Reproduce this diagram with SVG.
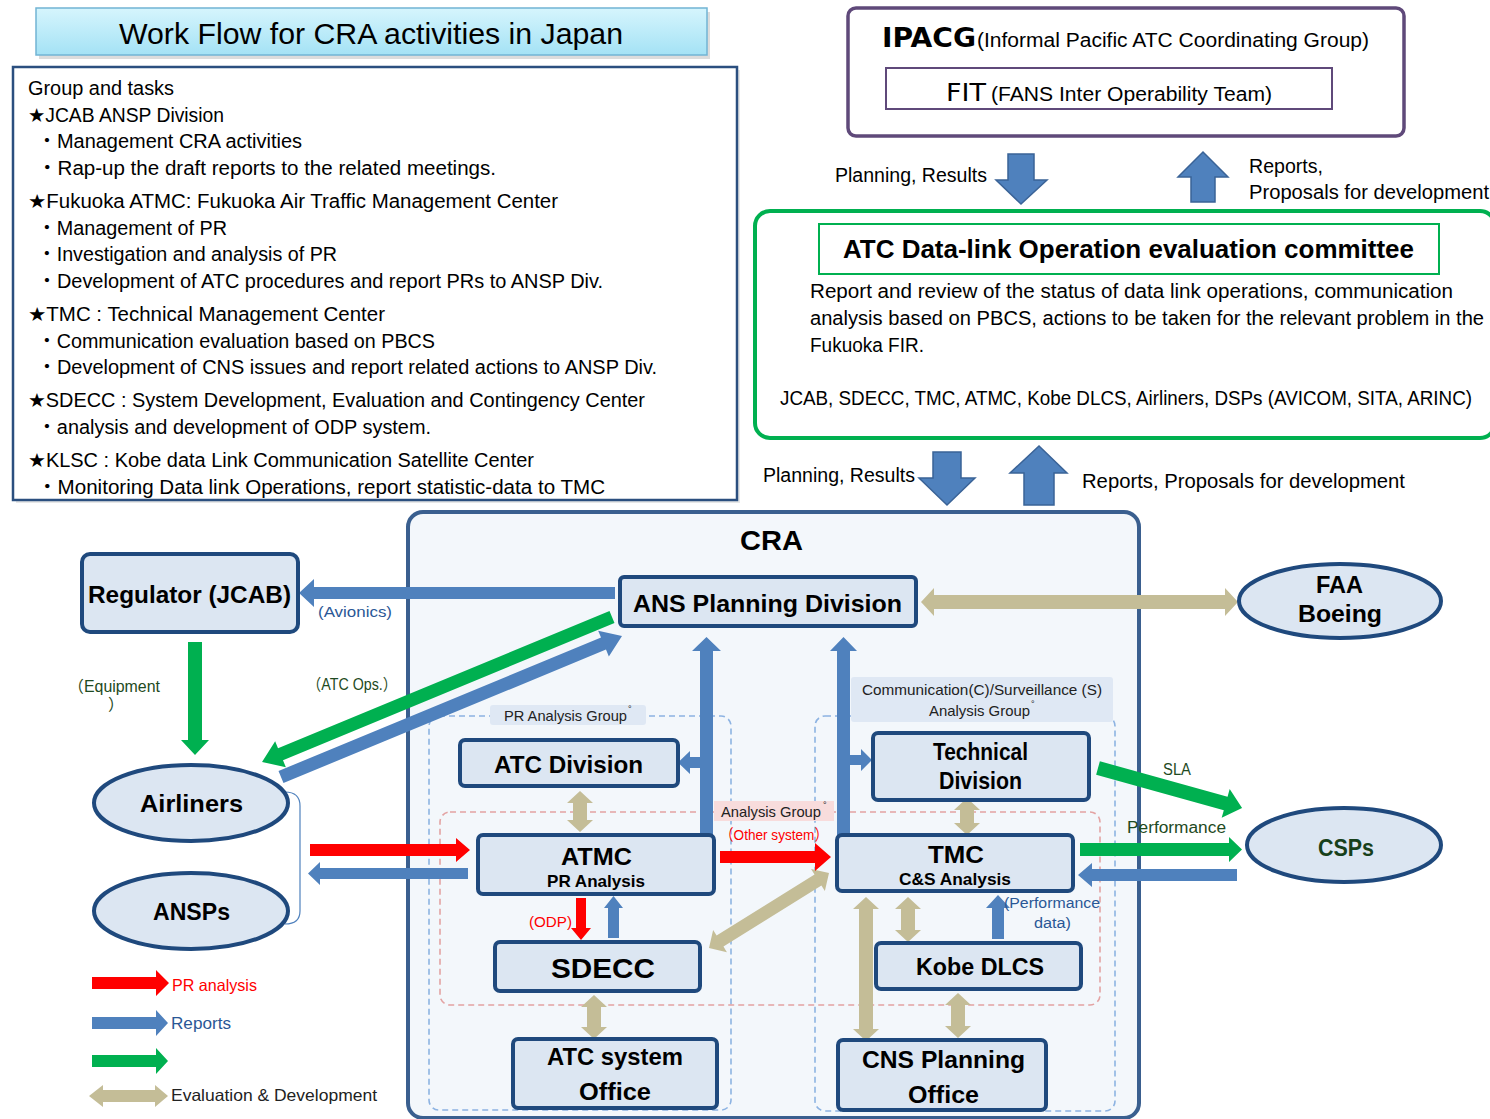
<svg xmlns="http://www.w3.org/2000/svg" width="1490" height="1119" viewBox="0 0 1490 1119">
<defs>
<linearGradient id="tg" x1="0" y1="0" x2="0" y2="1"><stop offset="0" stop-color="#d6f5fd"/><stop offset="1" stop-color="#a4e2f5"/></linearGradient>
<style>
text{font-family:"Liberation Sans","DejaVu Sans","Noto Sans CJK JP",sans-serif}
.t{font-size:19.5px;fill:#000}
.c20{font-size:20px;fill:#000}
.node{fill:#dce6f2;stroke:#1f497d;stroke-width:4}
.nl{font-weight:bold;font-size:24px;fill:#000}
.ns{font-weight:bold;font-size:17px;fill:#000}
.blue{fill:#4f81bd}
.bigblue{fill:#4f81bd;stroke:#3a6397;stroke-width:1.5}
.green{fill:#00b050}
.red{fill:#ff0000}
.tan{fill:#c4bd97}
.lbl{font-size:14.5px;fill:#222}
.bl{font-size:15.5px;fill:#2a5796}
.gl{font-size:16px;fill:#1e4a22}
.rl{font-size:15.5px;fill:#ff0000}
.dashb{fill:none;stroke:#8db3e2;stroke-width:1.6;stroke-dasharray:6 4}
.dashr{fill:none;stroke:#e3a3a3;stroke-width:1.6;stroke-dasharray:6 4}
</style>
</defs>
<rect width="1490" height="1119" fill="#ffffff"/>

<!-- Title -->
<g id="title">
<rect x="39" y="12" width="671" height="47" fill="#9a9a9a" opacity="0.35"/>
<rect x="36" y="8" width="671" height="47" fill="url(#tg)" stroke="#72b4d4" stroke-width="1.5"/>
<text x="119" y="44" style="font-size:29px" fill="#000" textLength="504" lengthAdjust="spacingAndGlyphs">Work Flow for CRA activities in Japan</text>
</g>

<!-- Group and tasks -->
<g id="tasks">
<rect x="16" y="70" width="724" height="433" fill="#b0b0b0" opacity="0.3"/>
<rect x="13" y="67" width="724" height="433" fill="#ffffff" stroke="#2b4f7f" stroke-width="2.5"/>
<text class="t" x="28" y="95" textLength="146" lengthAdjust="spacingAndGlyphs">Group and tasks</text>
<text class="t" x="28" y="122" textLength="196" lengthAdjust="spacingAndGlyphs">★JCAB ANSP Division</text>
<text class="t" x="37" y="148" textLength="265" lengthAdjust="spacingAndGlyphs">・Management CRA activities</text>
<text class="t" x="37" y="175" textLength="459" lengthAdjust="spacingAndGlyphs">・Rap-up the draft reports to the related meetings.</text>
<text class="t" x="28" y="208" textLength="530" lengthAdjust="spacingAndGlyphs">★Fukuoka ATMC: Fukuoka Air Traffic Management Center</text>
<text class="t" x="37" y="235" textLength="190" lengthAdjust="spacingAndGlyphs">・Management of PR</text>
<text class="t" x="37" y="261" textLength="300" lengthAdjust="spacingAndGlyphs">・Investigation and analysis of PR</text>
<text class="t" x="37" y="288" textLength="566" lengthAdjust="spacingAndGlyphs">・Development of ATC procedures and report PRs to ANSP Div.</text>
<text class="t" x="28" y="321" textLength="357" lengthAdjust="spacingAndGlyphs">★TMC : Technical Management Center</text>
<text class="t" x="37" y="348" textLength="398" lengthAdjust="spacingAndGlyphs">・Communication evaluation based on PBCS</text>
<text class="t" x="37" y="374" textLength="620" lengthAdjust="spacingAndGlyphs">・Development of CNS issues and report related actions to ANSP Div.</text>
<text class="t" x="28" y="407" textLength="617" lengthAdjust="spacingAndGlyphs">★SDECC : System Development, Evaluation and Contingency Center</text>
<text class="t" x="37" y="434" textLength="394" lengthAdjust="spacingAndGlyphs">・analysis and development of ODP system.</text>
<text class="t" x="28" y="467" textLength="506" lengthAdjust="spacingAndGlyphs">★KLSC : Kobe data Link Communication Satellite Center</text>
<text class="t" x="37" y="494" textLength="568" lengthAdjust="spacingAndGlyphs">・Monitoring Data link Operations, report statistic-data to TMC</text>
</g>

<!-- IPACG -->
<g id="ipacg">
<rect x="848" y="8" width="556" height="128" rx="8" fill="#ffffff" stroke="#5f497a" stroke-width="3.5"/>
<text x="882" y="47" style="font-family:'DejaVu Sans',sans-serif;font-weight:bold;font-size:26px" fill="#000" textLength="94" lengthAdjust="spacingAndGlyphs">IPACG</text>
<text x="977" y="47" class="c20" textLength="392" lengthAdjust="spacingAndGlyphs">(Informal Pacific ATC Coordinating Group)</text>
</g>
<g id="fit">
<rect x="886" y="68" width="446" height="41" fill="#ffffff" stroke="#5f497a" stroke-width="2"/>
<text x="946" y="101" style="font-family:'DejaVu Sans',sans-serif;font-size:25px" fill="#000" textLength="40" lengthAdjust="spacingAndGlyphs">FIT</text>
<text x="991" y="101" class="c20" textLength="281" lengthAdjust="spacingAndGlyphs">(FANS Inter Operability Team)</text>
</g>

<!-- Committee -->
<g id="committee">
<rect x="755" y="211" width="740" height="227" rx="15" fill="#ffffff" stroke="#00b050" stroke-width="4"/>
<rect x="819" y="224" width="620" height="50" fill="#ffffff" stroke="#00b050" stroke-width="2"/>
<text x="843" y="258" style="font-weight:bold;font-size:26px" fill="#000" textLength="571" lengthAdjust="spacingAndGlyphs">ATC Data-link Operation evaluation committee</text>
<text x="810" y="298" class="c20" textLength="643" lengthAdjust="spacingAndGlyphs">Report and review of the status of data link operations, communication</text>
<text x="810" y="325" class="c20" textLength="674" lengthAdjust="spacingAndGlyphs">analysis based on PBCS, actions to be taken for the relevant problem in the</text>
<text x="810" y="352" class="c20" textLength="114" lengthAdjust="spacingAndGlyphs">Fukuoka FIR.</text>
<text x="780" y="405" class="c20" textLength="692" lengthAdjust="spacingAndGlyphs">JCAB, SDECC, TMC, ATMC, Kobe DLCS, Airliners, DSPs (AVICOM, SITA, ARINC)</text>
</g>

<!-- Top flow arrows -->
<g id="flow-top">
<polygon class="bigblue" points="1008,154 1034,154 1034,180 1047,180 1021,204 996,180 1008,180"/>
<polygon class="bigblue" points="1191,202 1191,177 1178,177 1203,152 1228,177 1215,177 1215,202"/>
<text x="835" y="182" class="c20" textLength="152" lengthAdjust="spacingAndGlyphs">Planning, Results</text>
<text x="1249" y="173" class="c20" textLength="74" lengthAdjust="spacingAndGlyphs">Reports,</text>
<text x="1249" y="199" class="c20" textLength="240" lengthAdjust="spacingAndGlyphs">Proposals for development</text>
<polygon class="bigblue" points="933,452 961,452 961,478 975,478 947,505 919,478 933,478"/>
<polygon class="bigblue" points="1024,505 1024,473 1010,473 1039,446 1067,473 1054,473 1054,505"/>
<text x="763" y="482" class="c20" textLength="152" lengthAdjust="spacingAndGlyphs">Planning, Results</text>
<text x="1082" y="488" class="c20" textLength="323" lengthAdjust="spacingAndGlyphs">Reports, Proposals for development</text>
</g>

<!-- CRA container -->
<g id="cra">
<rect x="408" y="512" width="731" height="606" rx="15" fill="#f3f7fb" stroke="#3a5f8f" stroke-width="4"/>
<text x="740" y="550" style="font-weight:bold;font-size:28px" fill="#000" textLength="63" lengthAdjust="spacingAndGlyphs">CRA</text>
</g>

<!-- Groups -->
<g id="pr-analysis-group">
<rect class="dashb" x="429" y="716" width="302" height="394" rx="10"/>
<rect x="490" y="705" width="156" height="20" rx="3" fill="#dfe8f4"/>
<text class="lbl" x="504" y="721" textLength="123" lengthAdjust="spacingAndGlyphs">PR Analysis Group</text>
<text class="lbl" x="628" y="712" style="font-size:9px">°</text>
</g>
<g id="cs-analysis-group">
<rect class="dashb" x="815" y="716" width="300" height="395" rx="10"/>
<rect x="851" y="677" width="262" height="45" rx="3" fill="#dfe8f4"/>
<text class="lbl" x="862" y="695" textLength="240" lengthAdjust="spacingAndGlyphs">Communication(C)/Surveillance (S)</text>
<text class="lbl" x="929" y="716" textLength="101" lengthAdjust="spacingAndGlyphs">Analysis Group</text>
<text class="lbl" x="1031" y="707" style="font-size:9px">°</text>
</g>
<g id="analysis-group">
<rect class="dashr" x="440" y="812" width="660" height="193" rx="10"/>
<rect x="714" y="801" width="120" height="20" fill="#f8dcdc"/>
<text class="lbl" x="721" y="817" textLength="100" lengthAdjust="spacingAndGlyphs">Analysis Group</text>
<text class="lbl" x="823" y="808" style="font-size:9px">°</text>
<text class="rl" x="720" y="840" textLength="108" lengthAdjust="spacingAndGlyphs">（Other system）</text>
</g>

<!-- Connectors -->
<g id="connectors">
<polygon class="blue" points="615,587 314,587 314,579 299,593 314,607 314,599 615,599"/>
<polygon class="green" transform="translate(612,617) rotate(157.5)" points="0,-6.5 358.8,-6.5 358.8,-14 378.8,0 358.8,14 358.8,6.5 0,6.5"/>
<polygon class="blue" transform="translate(281,777) rotate(-22.47)" points="0,-6.5 349,-6.5 349,-14 369,0 349,14 349,6.5 0,6.5"/>
<polygon class="green" points="188,642 202,642 202,740 209,740 195,755 181,740 188,740"/>
<path d="M285,792 Q300,792 300,806 L300,911 Q300,924 285,924" fill="none" stroke="#4f81bd" stroke-width="1.2"/>
<polygon class="red" points="310,844 456,844 456,838 470,850 456,862 456,856 310,856"/>
<polygon class="blue" points="468,868 320,868 320,862 308,873.5 320,885 320,879 468,879"/>
<polygon class="blue" points="700,835 700,651 692,651 706.5,637 721,651 713,651 713,835"/>
<polygon class="blue" points="701,757 690,757 690,751 678,762.5 690,774 690,768 701,768"/>
<polygon class="blue" points="837,835 837,651 830,651 843.5,637 857,651 850,651 850,835"/>
<polygon class="blue" points="849,755 861,755 861,749 872,760 861,771 861,765 849,765"/>
<polygon class="tan" points="921,602 934,588 934,595 1225,595 1225,588 1238,602 1225,616 1225,609 934,609 934,616"/>
<polygon class="tan" points="580,791 593,803 587,803 587,820 593,820 580,832 567,820 573,820 573,803 567,803"/>
<polygon class="tan" points="967,798 980,810 974,810 974,823 980,823 967,835 954,823 960,823 960,810 954,810"/>
<polygon class="tan" points="594,995 607,1007 601,1007 601,1027 607,1027 594,1039 581,1027 587,1027 587,1007 581,1007"/>
<polygon class="tan" points="866,897 879,909 873,909 873,1029 879,1029 866,1041 853,1029 859,1029 859,909 853,909"/>
<polygon class="tan" points="908,897 921,909 915,909 915,930 921,930 908,942 895,930 901,930 901,909 895,909"/>
<polygon class="tan" points="958,993 971,1005 965,1005 965,1026 971,1026 958,1038 945,1026 951,1026 951,1005 945,1005"/>
<polygon class="tan" transform="translate(709,948) rotate(-32)" points="0,0 13,-13 13,-6.5 128.5,-6.5 128.5,-13 141.5,0 128.5,13 128.5,6.5 13,6.5 13,13"/>
<polygon class="red" points="720,851 815,851 815,843 831,857 815,871 815,863 720,863"/>
<polygon class="red" points="576,898 586,898 586,928 591,928 581,940 571,928 576,928"/>
<polygon class="blue" points="608,938 608,908 604,908 613.5,896 623,908 619,908 619,938"/>
<polygon class="blue" points="992,939 992,908 986,908 998,895 1010,908 1004,908 1004,939"/>
<polygon class="green" transform="translate(1098,768) rotate(15.5)" points="0,-7 132.5,-7 132.5,-15 149.5,0 132.5,15 132.5,7 0,7"/>
<polygon class="green" points="1080,843 1229,843 1229,837 1242,849.5 1229,862 1229,856 1080,856"/>
<polygon class="blue" points="1237,869 1092,869 1092,863 1078,875 1092,887 1092,881 1237,881"/>
</g>

<!-- Connector labels -->
<g id="connector-labels">
<text class="bl" x="318" y="617" textLength="74" lengthAdjust="spacingAndGlyphs">(Avionics)</text>
<text class="gl" x="68" y="692" textLength="92" lengthAdjust="spacingAndGlyphs">（Equipment</text>
<text class="gl" x="108" y="710">）</text>
<text class="gl" x="307" y="690" textLength="90" lengthAdjust="spacingAndGlyphs">（ATC Ops.）</text>
<text class="rl" x="529" y="927" textLength="43" lengthAdjust="spacingAndGlyphs">(ODP)</text>
<text class="bl" x="1004" y="908" textLength="96" lengthAdjust="spacingAndGlyphs">(Performance</text>
<text class="bl" x="1034" y="928" textLength="37" lengthAdjust="spacingAndGlyphs">data)</text>
<text class="gl" x="1163" y="775" textLength="28" lengthAdjust="spacingAndGlyphs">SLA</text>
<text class="gl" x="1127" y="833" textLength="99" lengthAdjust="spacingAndGlyphs">Performance</text>
</g>

<!-- Nodes -->
<g id="ans-planning">
<rect class="node" x="620" y="577" width="296" height="49" rx="4"/>
<text class="nl" x="633" y="612" textLength="269" lengthAdjust="spacingAndGlyphs">ANS Planning Division</text>
</g>
<g id="regulator">
<rect class="node" x="82" y="554" width="216" height="78" rx="8"/>
<text class="nl" x="88" y="603" textLength="203" lengthAdjust="spacingAndGlyphs">Regulator (JCAB)</text>
</g>
<g id="airliners">
<ellipse class="node" cx="191" cy="803" rx="97" ry="38"/>
<text class="nl" x="140" y="812" textLength="103" lengthAdjust="spacingAndGlyphs">Airliners</text>
</g>
<g id="ansps">
<ellipse class="node" cx="191" cy="911" rx="97" ry="38"/>
<text class="nl" x="153" y="920" textLength="77" lengthAdjust="spacingAndGlyphs">ANSPs</text>
</g>
<g id="faa-boeing">
<ellipse class="node" cx="1340" cy="601" rx="101" ry="37"/>
<text class="nl" x="1316" y="593" textLength="47" lengthAdjust="spacingAndGlyphs">FAA</text>
<text class="nl" x="1298" y="622" textLength="84" lengthAdjust="spacingAndGlyphs">Boeing</text>
</g>
<g id="csps">
<ellipse class="node" cx="1344" cy="845" rx="97" ry="37"/>
<text class="nl" x="1318" y="856" style="fill:#17401a" textLength="56" lengthAdjust="spacingAndGlyphs">CSPs</text>
</g>
<g id="atc-division">
<rect class="node" x="460" y="740" width="218" height="46" rx="5"/>
<text class="nl" x="494" y="773" textLength="149" lengthAdjust="spacingAndGlyphs">ATC Division</text>
</g>
<g id="technical-division">
<rect class="node" x="873" y="733" width="216" height="67" rx="5"/>
<text class="nl" x="933" y="760" textLength="95" lengthAdjust="spacingAndGlyphs">Technical</text>
<text class="nl" x="939" y="789" textLength="83" lengthAdjust="spacingAndGlyphs">Division</text>
</g>
<g id="atmc">
<rect class="node" x="478" y="835" width="236" height="59" rx="5"/>
<text class="nl" x="561" y="865" textLength="71" lengthAdjust="spacingAndGlyphs">ATMC</text>
<text class="ns" x="547" y="887" textLength="98" lengthAdjust="spacingAndGlyphs">PR Analysis</text>
</g>
<g id="tmc">
<rect class="node" x="837" y="835" width="236" height="56" rx="5"/>
<text class="nl" x="928" y="863" textLength="56" lengthAdjust="spacingAndGlyphs">TMC</text>
<text class="ns" x="899" y="885" textLength="112" lengthAdjust="spacingAndGlyphs">C&amp;S Analysis</text>
</g>
<g id="sdecc">
<rect class="node" x="495" y="942" width="205" height="49" rx="5"/>
<text x="551" y="978" style="font-weight:bold;font-size:28px" fill="#000" textLength="104" lengthAdjust="spacingAndGlyphs">SDECC</text>
</g>
<g id="kobe-dlcs">
<rect class="node" x="876" y="943" width="205" height="46" rx="5"/>
<text class="nl" x="916" y="975" textLength="128" lengthAdjust="spacingAndGlyphs">Kobe DLCS</text>
</g>
<g id="atc-system-office">
<rect class="node" x="513" y="1039" width="204" height="69" rx="5"/>
<text class="nl" x="547" y="1065" textLength="136" lengthAdjust="spacingAndGlyphs">ATC system</text>
<text class="nl" x="579" y="1100" textLength="72" lengthAdjust="spacingAndGlyphs">Office</text>
</g>
<g id="cns-planning-office">
<rect class="node" x="838" y="1040" width="208" height="70" rx="5"/>
<text class="nl" x="862" y="1068" textLength="163" lengthAdjust="spacingAndGlyphs">CNS Planning</text>
<text class="nl" x="908" y="1103" textLength="71" lengthAdjust="spacingAndGlyphs">Office</text>
</g>

<!-- Legend -->
<g id="legend">
<polygon class="red" points="92,977 156,977 156,970 169,983 156,996 156,989 92,989"/>
<text x="172" y="991" style="font-size:16.5px;fill:#ff0000" textLength="85" lengthAdjust="spacingAndGlyphs">PR analysis</text>
<polygon class="blue" points="92,1017 156,1017 156,1010 168,1023 156,1036 156,1029 92,1029"/>
<text x="171" y="1029" style="font-size:16.5px;fill:#2a5796" textLength="60" lengthAdjust="spacingAndGlyphs">Reports</text>
<polygon class="green" points="92,1055 156,1055 156,1048 168,1061 156,1074 156,1067 92,1067"/>
<polygon class="tan" points="89,1096 103,1085 103,1090 155,1090 155,1085 168,1096 155,1107 155,1102 103,1102 103,1107"/>
<text x="171" y="1101" style="font-size:16.5px;fill:#222" textLength="206" lengthAdjust="spacingAndGlyphs">Evaluation &amp; Development</text>
</g>
</svg>
